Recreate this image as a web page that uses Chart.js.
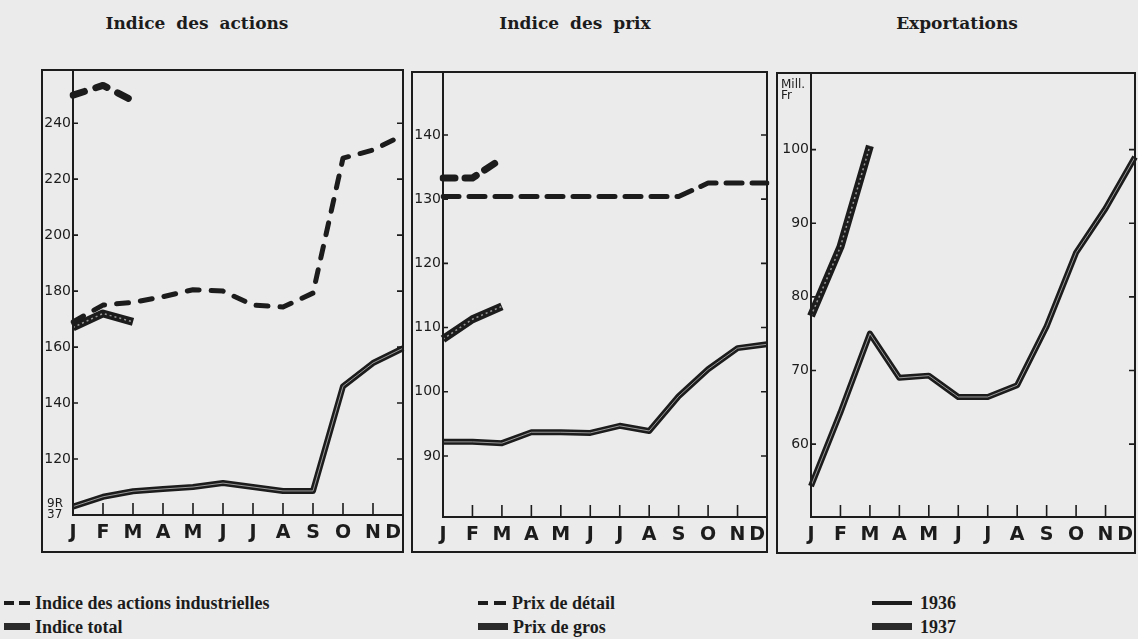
<!DOCTYPE html>
<html>
<head>
<meta charset="utf-8">
<script src="https://cdn.jsdelivr.net/npm/chart.js@4/dist/chart.umd.min.js"></script>
<style>
  html, body { margin: 0; padding: 0; }
  body { width: 1138px; height: 639px; background: #ebebeb; position: relative; overflow: hidden; }
  canvas { position: absolute; }
  .title { position: absolute; top: 13px; font: bold 17px "DejaVu Serif", serif; color: #1c1c1c; word-spacing: 5px; transform: translateX(-50%); white-space: nowrap; }
  .leg { position: absolute; font: bold 18px "Liberation Serif", serif; color: #1c1c1c; white-space: nowrap; line-height: 20px; }
  .sw { position: absolute; background: #1c1c1c; }
</style>
</head>
<body>
<div class="title" style="left:197px">Indice des actions</div>
<div class="title" style="left:575px">Indice des prix</div>
<div class="title" style="left:957px">Exportations</div>

<canvas id="c1" width="366" height="487" style="left:40px;top:68px"></canvas>
<canvas id="c2" width="360" height="485" style="left:410px;top:70px"></canvas>
<canvas id="c3" width="363" height="485" style="left:775px;top:71px"></canvas>

<!-- legend -->
<div class="sw" style="left:4px;top:601px;width:10px;height:4px"></div>
<div class="sw" style="left:19px;top:601px;width:11px;height:4px"></div>
<div class="leg" style="left:35px;top:593px">Indice des actions industrielles</div>
<div class="sw" style="left:4px;top:623px;width:26px;height:7px;background:#2a2a2a"></div>
<div class="leg" style="left:35px;top:617px">Indice total</div>

<div class="sw" style="left:478px;top:601px;width:10px;height:4px"></div>
<div class="sw" style="left:494px;top:601px;width:12px;height:4px"></div>
<div class="leg" style="left:512px;top:593px">Prix de détail</div>
<div class="sw" style="left:478px;top:623px;width:30px;height:7px;background:#2a2a2a"></div>
<div class="leg" style="left:513px;top:617px">Prix de gros</div>

<div class="sw" style="left:872px;top:601px;width:40px;height:4px"></div>
<div class="leg" style="left:920px;top:593px">1936</div>
<div class="sw" style="left:872px;top:623px;width:40px;height:7px;background:#2a2a2a"></div>
<div class="leg" style="left:920px;top:617px">1937</div>

<script>
// months on the x axis
const months = ['J', 'F', 'M', 'A', 'M', 'J', 'J', 'A', 'S', 'O', 'N', 'D'];

// Indice des actions
const actionsInd1936 = [169, 175, 176, 178, 180.5, 180, 175, 174.3, 179.3, 227.5, 230.4, 235.7];
const actionsInd1937 = [250, 253.5, 248];
const actionsTot1936 = [103, 106.5, 108.5, 109.3, 110, 111.4, 110, 108.6, 108.6, 146, 154.3, 159.6];
const actionsTot1937 = [167, 172, 169];
const actionsTicks = [120, 140, 160, 180, 200, 220, 240];

// Indice des prix
const detail1936 = [130.4, 130.4, 130.4, 130.4, 130.4, 130.4, 130.4, 130.4, 130.4, 132.5, 132.5, 132.5];
const detail1937 = [133.3, 133.3, 136.3];
const gros1936 = [92.2, 92.2, 92, 93.7, 93.7, 93.6, 94.7, 93.9, 99.3, 103.5, 106.8, 107.4];
const gros1937 = [108.2, 111.3, 113.3];
const prixTicks = [90, 100, 110, 120, 130, 140];

// Exportations (Mill. Fr)
const export1936 = [54.3, 64.3, 75, 69, 69.3, 66.4, 66.4, 68, 76, 86, 92, 99];
const export1937 = [77.4, 86.8, 100.5];
const exportTicks = [60, 70, 80, 90, 100];

const ink = '#1c1c1c';

// box, axes, inward ticks and month letters
const framePlugin = {
    id: 'frame',
    afterDraw(chart, args, opts) {
        const ctx = chart.ctx;
        const a = chart.chartArea;
        const x = chart.scales.x, y = chart.scales.y;
        ctx.save();
        ctx.strokeStyle = ink;
        ctx.lineWidth = 2;
        ctx.strokeRect(a.left - opts.axisW, a.top, a.right - a.left + opts.axisW, a.bottom - a.top + opts.axisH);
        ctx.beginPath();
        ctx.moveTo(a.left, a.top); ctx.lineTo(a.left, a.bottom); ctx.lineTo(a.right, a.bottom);
        ctx.stroke();
        ctx.lineWidth = 1.6;
        ctx.beginPath();
        for (let i = 1; i < months.length - 1; i++) {
            const px = x.getPixelForValue(i);
            ctx.moveTo(px, a.bottom); ctx.lineTo(px, a.bottom - 12);
        }
        y.ticks.forEach(t => {
            const py = y.getPixelForValue(t.value);
            ctx.moveTo(a.left, py); ctx.lineTo(a.left + 5, py);
            ctx.moveTo(a.right, py); ctx.lineTo(a.right - 6, py);
        });
        ctx.stroke();
        // month letters
        ctx.fillStyle = ink;
        ctx.font = 'bold 19px "DejaVu Sans"';
        ctx.textAlign = 'center';
        ctx.textBaseline = 'middle';
        months.forEach((m, i) => {
            const w = ctx.measureText(m).width;
            let px = x.getPixelForValue(i);
            px = Math.min(px, a.right - w / 2 - 2);
            ctx.fillText(m, px, a.bottom + 18);
        });
        // small notes
        if (opts.note) {
            ctx.font = '12px "DejaVu Sans"';
            ctx.textAlign = 'left';
            opts.note.forEach((n, i) => ctx.fillText(n, a.left - opts.axisW + opts.noteX, opts.noteY(a) + i * 11));
        }
        ctx.restore();
    }
};

function solid(data, w, inner) {
    return [
        { data: data, borderColor: ink, borderWidth: w, order: 2 },
        { data: data, borderColor: 'rgba(185,185,185,0.8)', borderWidth: inner ? 1.5 : 1, borderDash: inner ? [2, 3] : [], order: 1 }
    ];
}

function dashed(data, w, dash) {
    return [{ data: data, borderColor: ink, borderWidth: w, borderDash: dash, borderCapStyle: 'round', order: 2 }];
}

function makeChart(id, datasets, min, max, ticks, axisW, axisH, extra) {
    return new Chart(document.getElementById(id), {
        type: 'line',
        data: { labels: months, datasets: datasets },
        options: {
            responsive: false,
            animation: false,
            layout: { padding: { left: 2, top: 2, right: 3, bottom: 3 } },
            elements: { point: { radius: 0 }, line: { tension: 0, borderJoinStyle: 'round' } },
            plugins: {
                legend: { display: false },
                tooltip: { enabled: false },
                frame: Object.assign({ axisW: axisW, axisH: axisH }, extra)
            },
            scales: {
                x: {
                    offset: false,
                    grid: { display: false, drawTicks: false },
                    border: { display: false },
                    ticks: { display: false },
                    afterFit: s => { s.height = axisH; s.paddingLeft = 0; s.paddingRight = 0; }
                },
                y: {
                    min: min, max: max,
                    grid: { display: false, drawTicks: false },
                    border: { display: false },
                    afterBuildTicks: s => { s.ticks = ticks.map(v => ({ value: v })); },
                    ticks: { padding: 2, color: ink, font: { family: 'DejaVu Sans', size: 14 } },
                    afterFit: s => { s.width = axisW; s.paddingTop = 0; s.paddingBottom = 0; }
                }
            }
        },
        plugins: [framePlugin]
    });
}

makeChart('c1', [].concat(
    dashed(actionsInd1936, 5, [12, 12]),
    dashed(actionsInd1937, 7, [12, 12]),
    solid(actionsTot1936, 6, false),
    solid(actionsTot1937, 8, true)
), 100, 259, actionsTicks, 31, 37, { note: ['9R', '37'], noteX: 5, noteY: a => a.bottom - 11 });

makeChart('c2', [].concat(
    dashed(detail1936, 5, [16, 10]),
    dashed(detail1937, 7, [12, 10]),
    solid(gros1936, 6, false),
    solid(gros1937, 8, true)
), 80.5, 149.8, prixTicks, 31, 35, {});

makeChart('c3', [].concat(
    solid(export1936, 6, false),
    solid(export1937, 8, true)
), 50.1, 110.4, exportTicks, 34, 36, { note: ['Mill.', 'Fr'], noteX: 4, noteY: a => a.top + 12 });
</script>
</body>
</html>
